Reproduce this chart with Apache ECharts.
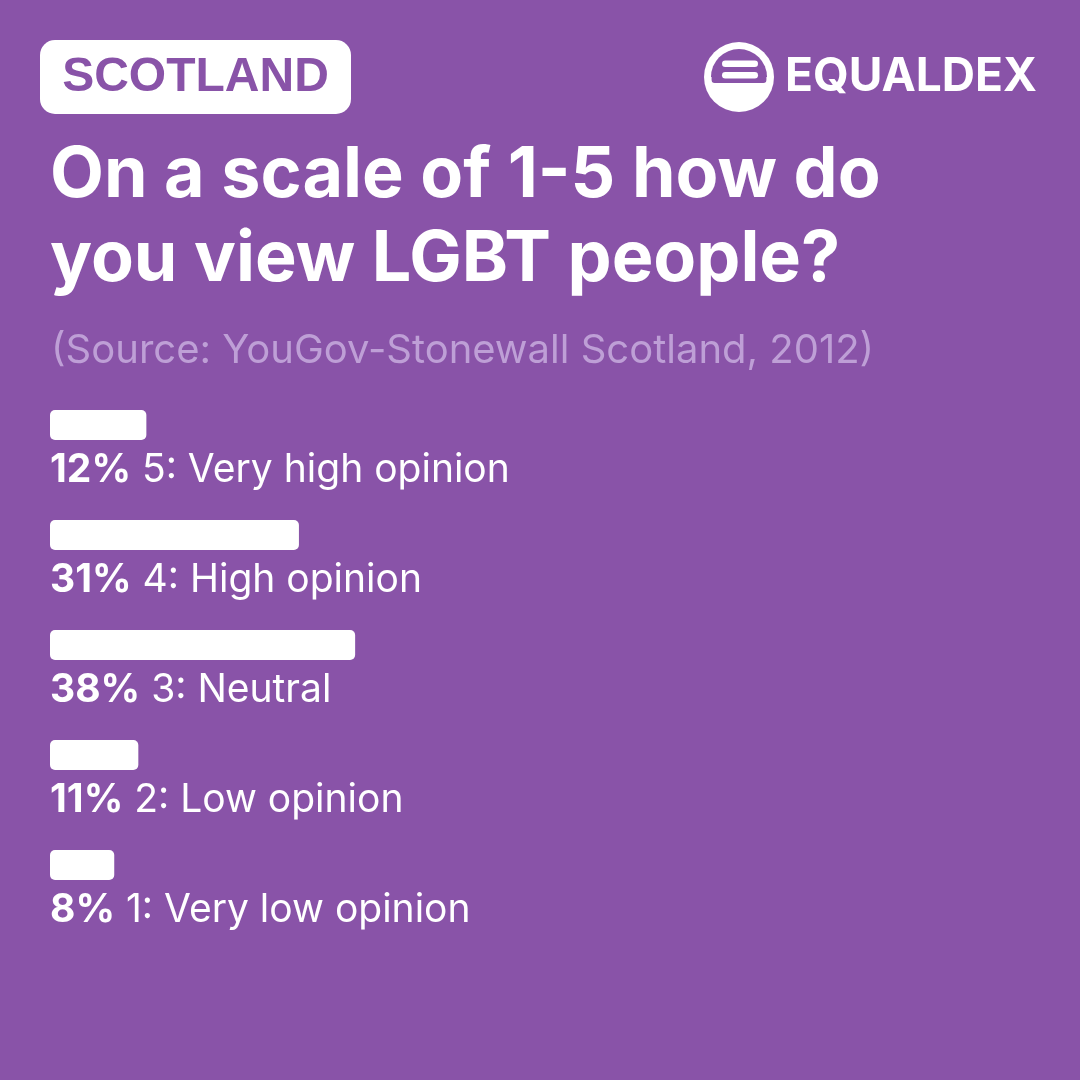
<!DOCTYPE html>
<html>
<head>
<meta charset="utf-8">
<style>html,body{margin:0;padding:0;background:#8953A8;}#c{width:1080px;height:1080px;}</style>
<script src="https://cdn.jsdelivr.net/npm/echarts@6/dist/echarts.min.js"></script>
</head>
<body>
<div id="c"></div>
<script>
const categories = ['5: Very high opinion', '4: High opinion', '3: Neutral', '2: Low opinion', '1: Very low opinion'];
const values = [12, 31, 38, 11, 8];
const countryName = 'SCOTLAND';
const titleText = 'On a scale of 1-5 how do\nyou view LGBT people?';
const sourceText = '(Source: YouGov-Stonewall Scotland, 2012)';
const brandText = 'EQUALDEX';

const BG = '#8953A8';
const chart = echarts.init(document.getElementById('c'), null, {renderer: 'canvas'});
chart.setOption({
  backgroundColor: BG,
  animation: false,
  title: [{
    text: titleText,
    left: 50, top: 134, padding: 0,
    textStyle: {color: '#fff', fontFamily: 'Inter', fontWeight: 'bold', fontSize: 70, lineHeight: 84}
  }, {
    text: sourceText,
    left: 51, top: 331, padding: 0,
    textStyle: {color: '#BE9FD6', fontFamily: 'Inter', fontWeight: 'normal', fontSize: 40, lineHeight: 40}
  }],
  grid: {left: 50, top: 370, width: 803, height: 550},
  xAxis: {type: 'value', min: 0, max: 100, show: false},
  yAxis: {type: 'category', data: categories, inverse: true, show: false},
  series: [{
    type: 'bar',
    data: values,
    barWidth: 30,
    itemStyle: {color: '#fff', borderRadius: 5},
    label: {
      show: true,
      position: [0, 60],
      align: 'left',
      verticalAlign: 'middle',
      formatter: p => '{b|' + p.value + '%}{n| ' + p.name + '}',
      rich: {
        b: {color: '#fff', fontFamily: 'Inter', fontWeight: 'bold', fontSize: 39},
        n: {color: '#fff', fontFamily: 'Inter', fontWeight: 'normal', fontSize: 39}
      }
    }
  }],
  graphic: [
    {type: 'rect', shape: {x: 40, y: 40, width: 311, height: 74, r: 15}, style: {fill: '#fff'}},
    {type: 'text', style: {text: countryName, x: 195.5, y: 78, align: 'center', verticalAlign: 'middle',
      fill: BG, font: 'bold 48px "Liberation Sans"'}},
    {type: 'circle', shape: {cx: 739, cy: 77, r: 35}, style: {fill: '#fff'}},
    {type: 'sector', shape: {cx: 739, cy: 77, r0: 0, r: 28, startAngle: Math.PI, endAngle: 2 * Math.PI}, style: {fill: BG}},
    {type: 'rect', shape: {x: 711.6, y: 76, width: 54.8, height: 7, r: [0, 0, 3, 3]}, style: {fill: BG}},
    {type: 'rect', shape: {x: 722, y: 60.5, width: 36, height: 6.5, r: 3.25}, style: {fill: '#fff'}},
    {type: 'rect', shape: {x: 722, y: 72, width: 36, height: 6.5, r: 3.25}, style: {fill: '#fff'}},
    {type: 'text', style: {text: brandText, x: 785, y: 77, align: 'left', verticalAlign: 'middle',
      fill: '#fff', font: 'bold 46px Inter'}}
  ]
});
</script>
</body>
</html>
